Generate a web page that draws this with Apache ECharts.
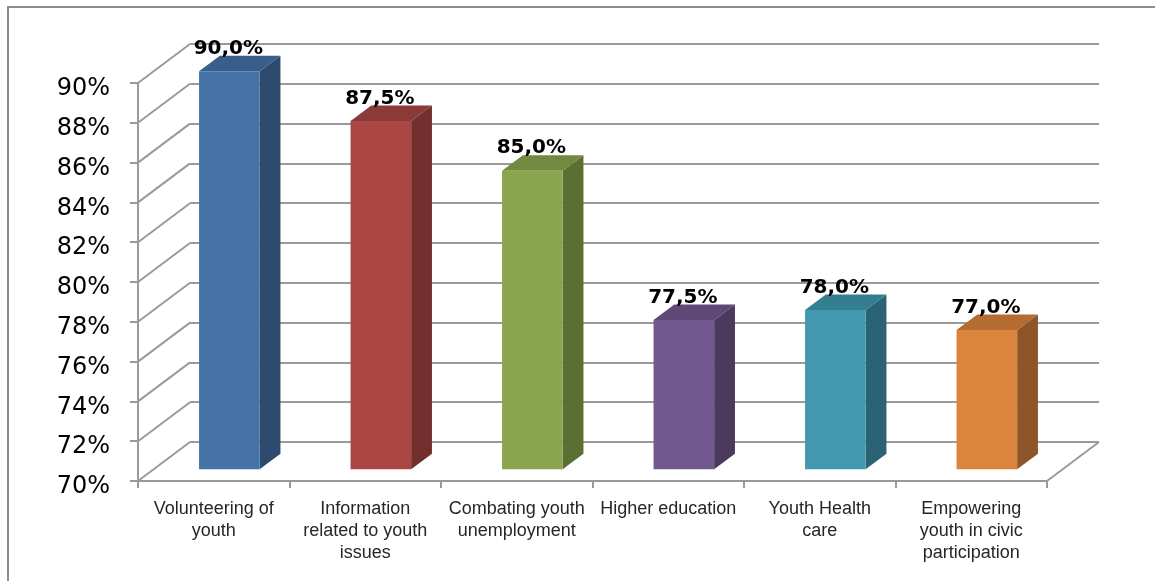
<!DOCTYPE html>
<html>
<head>
<meta charset="utf-8">
<script src="https://cdn.jsdelivr.net/npm/echarts@6/dist/echarts.min.js"></script>
<style>
  html, body { margin: 0; padding: 0; background: #ffffff; }
  #chart { width: 1155px; height: 581px; }
</style>
</head>
<body>
<div id="chart"></div>
<script>
// Categories (with manual line breaks as they wrap under the axis)
const categories = [
  'Volunteering of\nyouth',
  'Information\nrelated to youth\nissues',
  'Combating youth\nunemployment',
  'Higher education',
  'Youth Health\ncare',
  'Empowering\nyouth in civic\nparticipation'
];

// Share of respondents, in percent
const values = [90.0, 87.5, 85.0, 77.5, 78.0, 77.0];

// Value axis ticks
const tickValues = [70, 72, 74, 76, 78, 80, 82, 84, 86, 88, 90];

// Per-bar face colours: front, top, side
const frontColors = ['#4572A7', '#AA4643', '#89A54E', '#71588F', '#4198AF', '#DB843D'];
const topColors   = ['#395E8A', '#8B3A38', '#718A40', '#5D4876', '#357D90', '#B46C32'];
const sideColors  = ['#2E4A6E', '#712F2D', '#5B6F33', '#4A3A5E', '#2A6374', '#8E5528'];

// 3D look: full depth of the plot box, and where the columns sit inside it
const DEPTH = [52, -39];
const BAR_FRONT = 0.3;
const BAR_DEPTH = 0.4;
const GRID_COLOR = '#9a9a9a';

const axisMin = tickValues[0];
const axisMax = tickValues[tickValues.length - 1];
const axisStep = tickValues[1] - tickValues[0];

function pct(v) {
  return v.toFixed(1).replace('.', ',') + '%';
}

const chart = echarts.init(document.getElementById('chart'), null, { renderer: 'canvas' });

const option = {
  backgroundColor: '#ffffff',
  animation: false,
  graphic: [{
    type: 'polyline',
    shape: { points: [[8, 581], [8, 7], [1155, 7]] },
    style: { stroke: '#8c8c8c', lineWidth: 2, fill: null },
    silent: true
  }],
  grid: [
    { left: 138, top: 83, width: 909, height: 398 },
    { left: 138 + DEPTH[0], top: 83 + DEPTH[1], width: 909, height: 398 }
  ],
  xAxis: [
    {
      type: 'category',
      gridIndex: 0,
      data: categories,
      boundaryGap: true,
      axisLine: { show: true, lineStyle: { color: GRID_COLOR, width: 2 } },
      axisTick: { show: true, length: 7, alignWithLabel: false, lineStyle: { color: GRID_COLOR, width: 2 } },
      axisLabel: {
        interval: 0,
        margin: 17,
        fontFamily: 'Liberation Sans',
        fontSize: 18,
        lineHeight: 22,
        color: '#262626',
        verticalAlign: 'top'
      },
      splitLine: { show: false }
    },
    {
      type: 'category',
      gridIndex: 1,
      data: categories,
      show: false
    }
  ],
  yAxis: [
    {
      type: 'value',
      gridIndex: 0,
      min: axisMin,
      max: axisMax,
      interval: axisStep,
      axisLine: { show: true, lineStyle: { color: GRID_COLOR, width: 2 } },
      axisTick: { show: true, length: 8, lineStyle: { color: GRID_COLOR, width: 2 } },
      axisLabel: {
        formatter: '{value}%',
        margin: 28,
        fontFamily: 'DejaVu Sans',
        fontSize: 24,
        color: '#000000',
        verticalAlign: 'top',
        lineHeight: 12
      },
      splitLine: { show: false }
    },
    {
      type: 'value',
      gridIndex: 1,
      min: axisMin,
      max: axisMax,
      interval: axisStep,
      axisLine: { show: false },
      axisTick: { show: false },
      axisLabel: { show: false },
      splitLine: { show: true, lineStyle: { color: GRID_COLOR, width: 2 } }
    }
  ],
  series: [
    {
      // Side wall and floor edges joining the front axes to the back wall
      type: 'custom',
      name: 'walls',
      xAxisIndex: 0,
      yAxisIndex: 0,
      silent: true,
      z: 1,
      data: tickValues.map(v => [0, v]),
      renderItem(params, api) {
        const cs = params.coordSys;
        const y = api.coord([0, api.value(1)])[1];
        const children = [{
          type: 'line',
          shape: { x1: cs.x, y1: y, x2: cs.x + DEPTH[0], y2: y + DEPTH[1] },
          style: { stroke: GRID_COLOR, lineWidth: 2 }
        }];
        if (api.value(1) === axisMin) {
          children.push({
            type: 'line',
            shape: { x1: cs.x + cs.width, y1: y, x2: cs.x + cs.width + DEPTH[0], y2: y + DEPTH[1] },
            style: { stroke: GRID_COLOR, lineWidth: 2 }
          });
        }
        return { type: 'group', children };
      }
    },
    {
      // 3D columns with value labels
      type: 'custom',
      name: 'columns',
      xAxisIndex: 0,
      yAxisIndex: 0,
      z: 5,
      data: values.map((v, i) => [i, v]),
      renderItem(params, api) {
        const i = api.value(0);
        const v = api.value(1);
        const top = api.coord([i, v]);
        const base = api.coord([i, axisMin]);
        const band = api.size([1, 0])[0];
        const w = band * 0.4;
        const fx = DEPTH[0] * BAR_FRONT, fy = DEPTH[1] * BAR_FRONT;
        const dx = DEPTH[0] * BAR_DEPTH, dy = DEPTH[1] * BAR_DEPTH;
        const x0 = top[0] + fx - w / 2;
        const x1 = x0 + w;
        const yt = top[1] + fy;
        const yb = base[1] + fy;
        return {
          type: 'group',
          children: [
            {
              type: 'polygon',
              shape: { points: [[x1, yt], [x1 + dx, yt + dy], [x1 + dx, yb + dy], [x1, yb]] },
              style: { fill: sideColors[i] }
            },
            {
              type: 'polygon',
              shape: { points: [[x0, yt], [x1, yt], [x1 + dx, yt + dy], [x0 + dx, yt + dy]] },
              style: { fill: topColors[i] }
            },
            {
              type: 'rect',
              shape: { x: x0, y: yt, width: w, height: yb - yt },
              style: { fill: frontColors[i] }
            },
            {
              type: 'text',
              x: (x0 + x1) / 2 - 1,
              y: yt + dy + 3,
              z2: 10,
              style: {
                text: pct(v),
                fill: '#000000',
                font: 'bold 20px "DejaVu Sans"',
                align: 'center',
                verticalAlign: 'bottom'
              }
            }
          ]
        };
      }
    }
  ]
};

chart.setOption(option);
</script>
</body>
</html>
